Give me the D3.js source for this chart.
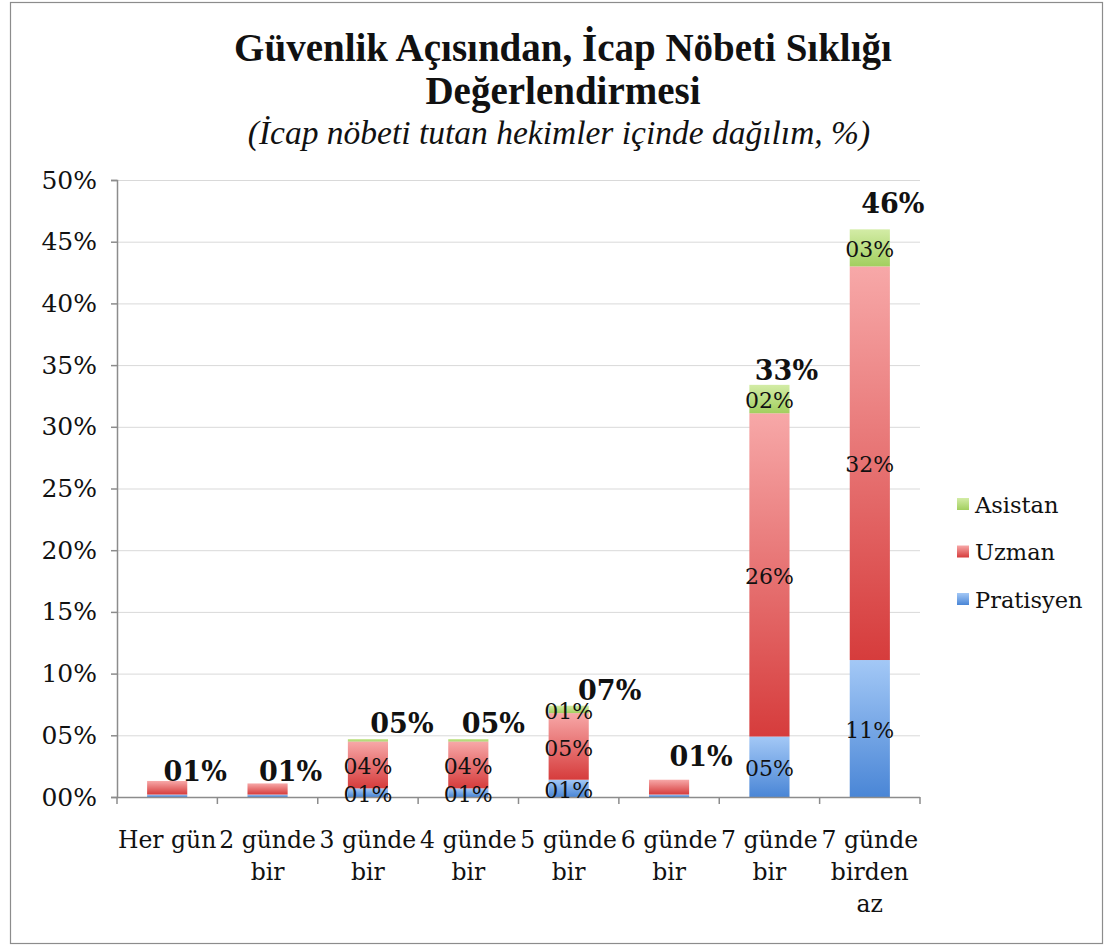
<!DOCTYPE html>
<html>
<head>
<meta charset="utf-8">
<script src="https://cdn.jsdelivr.net/npm/d3@7"></script>
<style>
  html, body { margin: 0; padding: 0; background: #fff; }
  svg { display: block; }
</style>
</head>
<body>
<svg id="chart" width="1109" height="947"></svg>
<script>
// ---- data ----
const categoryLines = [
  ["Her gün"],
  ["2 günde", "bir"],
  ["3 günde", "bir"],
  ["4 günde", "bir"],
  ["5 günde", "bir"],
  ["6 günde", "bir"],
  ["7 günde", "bir"],
  ["7 günde", "birden", "az"]
];
const categories = categoryLines.map(l => l.join(" "));
const seriesNames = ["Pratisyen", "Uzman", "Asistan"];
const pratisyen = [0.2, 0.2, 0.7, 0.7, 1.4, 0.2, 4.9, 11.1];
const uzman     = [1.1, 0.9, 3.8, 3.8, 5.4, 1.2, 26.2, 31.9];
const asistan   = [0.0, 0.0, 0.2, 0.2, 0.6, 0.0, 2.3, 3.0];
const yTicks = [0, 5, 10, 15, 20, 25, 30, 35, 40, 45, 50];
const showSegmentLabels = [false, false, true, true, true, false, true, true];

// ---- layout (not data) ----
const totalLabelDx = [28, 23, 34, 25, 41, 32, 17, 23];
const totalLabelRise = [0, 2, 6, 6, 6, 14, 5, 16];

const svg = d3.select("#chart");
const plot = { left: 117, right: 920, top: 180, bottom: 797 };

// border
svg.append("rect").attr("x", 10.5).attr("y", 2.5).attr("width", 1092).attr("height", 941)
  .attr("fill", "#fff").attr("stroke", "#8c8c8c").attr("stroke-width", 1.2);

// gradients
const defs = svg.append("defs");
const grads = {
  Pratisyen: ["#a3c8f6", "#4a86d6"],
  Uzman: ["#f7a8a8", "#d63c3c"],
  Asistan: ["#d3eca6", "#a2cf5f"]
};
Object.entries(grads).forEach(([k, [c1, c2]]) => {
  const g = defs.append("linearGradient").attr("id", "g-" + k)
    .attr("x1", 0).attr("y1", 0).attr("x2", 0).attr("y2", 1);
  g.append("stop").attr("offset", "0%").attr("stop-color", c1);
  g.append("stop").attr("offset", "100%").attr("stop-color", c2);
});

const x = d3.scaleBand().domain(categories).range([plot.left, plot.right]).paddingInner(0.6).paddingOuter(0.3);
const y = d3.scaleLinear().domain([0, 50]).range([plot.bottom, plot.top]);

// gridlines
svg.append("g").selectAll("line").data(yTicks.filter(t => t > 0)).join("line")
  .attr("x1", plot.left).attr("x2", plot.right)
  .attr("y1", d => y(d) + 0.5).attr("y2", d => y(d) + 0.5)
  .attr("stroke", "#d9d9d9").attr("stroke-width", 1);

// y axis
const yAxis = d3.axisLeft(y).tickValues(yTicks).tickSize(6).tickPadding(14)
  .tickFormat(d => String(d).padStart(2, "0") + "%");
const gy = svg.append("g").attr("transform", `translate(${plot.left},0)`).call(yAxis);
gy.select(".domain").attr("stroke", "#8c8c8c").attr("stroke-width", 1.5);
gy.selectAll(".tick line").attr("stroke", "#8c8c8c").attr("stroke-width", 1.5);
gy.selectAll(".tick text").attr("font-family", "DejaVu Serif").attr("font-size", 25)
  .attr("fill", "#111");

// stacked data
const rows = categories.map((c, i) => ({ cat: c, Pratisyen: pratisyen[i], Uzman: uzman[i], Asistan: asistan[i] }));
const stack = d3.stack().keys(seriesNames)(rows);

const bars = svg.append("g");
stack.forEach(layer => {
  bars.append("g").selectAll("rect").data(layer).join("rect")
    .attr("x", d => x(d.data.cat))
    .attr("width", x.bandwidth())
    .attr("y", d => y(d[1]))
    .attr("height", d => Math.max(0, y(d[0]) - y(d[1])))
    .attr("fill", `url(#g-${layer.key})`);
});

// x axis
const gx = svg.append("g").attr("transform", `translate(0,${plot.bottom})`);
gx.append("line").attr("x1", plot.left).attr("x2", plot.right).attr("y1", 0.5).attr("y2", 0.5)
  .attr("stroke", "#8c8c8c").attr("stroke-width", 1.5);
const boundaries = d3.range(categories.length + 1).map(i => plot.left + i * (plot.right - plot.left) / categories.length);
gx.selectAll("line.t").data(boundaries).join("line").attr("class", "t")
  .attr("x1", d => d).attr("x2", d => d).attr("y1", 0).attr("y2", 7)
  .attr("stroke", "#8c8c8c").attr("stroke-width", 1.5);

// category labels
categoryLines.forEach((lines, i) => {
  const cx = x(categories[i]) + x.bandwidth() / 2;
  const t = svg.append("text").attr("text-anchor", "middle")
    .attr("font-family", "DejaVu Serif").attr("font-size", 23.5).attr("fill", "#111");
  lines.forEach((ln, j) => {
    t.append("tspan").attr("x", cx).attr("y", 848 + j * 32).text(ln);
  });
});

// segment labels
const fmt = v => String(Math.round(v)).padStart(2, "0") + "%";
stack.forEach(layer => {
  svg.append("g").selectAll("text").data(layer.filter((d, i) => showSegmentLabels[i] && (d[1] - d[0]) >= 0.5))
    .join("text")
    .attr("x", d => x(d.data.cat) + x.bandwidth() / 2)
    .attr("y", d => (y(d[0]) + y(d[1])) / 2)
    .attr("dy", "0.42em")
    .attr("text-anchor", "middle")
    .attr("font-family", "DejaVu Serif").attr("font-size", 22).attr("fill", "#111")
    .text(d => fmt(d[1] - d[0]));
});

// totals
const totals = rows.map(r => r.Pratisyen + r.Uzman + r.Asistan);
svg.append("g").selectAll("text").data(totals).join("text")
  .attr("x", (d, i) => x(categories[i]) + x.bandwidth() / 2 + totalLabelDx[i])
  .attr("y", (d, i) => y(d) - totalLabelRise[i])
  .attr("text-anchor", "middle")
  .attr("font-family", "DejaVu Serif").attr("font-weight", "bold").attr("font-size", 27).attr("fill", "#111")
  .text(d => fmt(d));

// legend
const legendItems = ["Asistan", "Uzman", "Pratisyen"];
const lg = svg.append("g");
legendItems.forEach((k, i) => {
  const ly = 505 + i * 47.5;
  lg.append("rect").attr("x", 957).attr("y", ly - 7).attr("width", 12).attr("height", 12)
    .attr("fill", `url(#g-${k})`);
  lg.append("text").attr("x", 975).attr("y", ly).attr("dy", "0.35em")
    .attr("font-family", "DejaVu Serif").attr("font-size", 22.5).attr("fill", "#111").text(k);
});

// titles
svg.append("text").attr("x", 563).attr("y", 61).attr("text-anchor", "middle")
  .attr("font-family", "Liberation Serif").attr("font-weight", "bold").attr("font-size", 39).attr("fill", "#111")
  .text("Güvenlik Açısından, İcap Nöbeti Sıklığı");
svg.append("text").attr("x", 563).attr("y", 104).attr("text-anchor", "middle")
  .attr("font-family", "Liberation Serif").attr("font-weight", "bold").attr("font-size", 39).attr("fill", "#111")
  .text("Değerlendirmesi");
svg.append("text").attr("x", 559).attr("y", 144).attr("text-anchor", "middle")
  .attr("font-family", "Liberation Serif").attr("font-style", "italic").attr("font-size", 33.5).attr("fill", "#111")
  .text("(İcap nöbeti tutan hekimler içinde dağılım, %)");
</script>
</body>
</html>
